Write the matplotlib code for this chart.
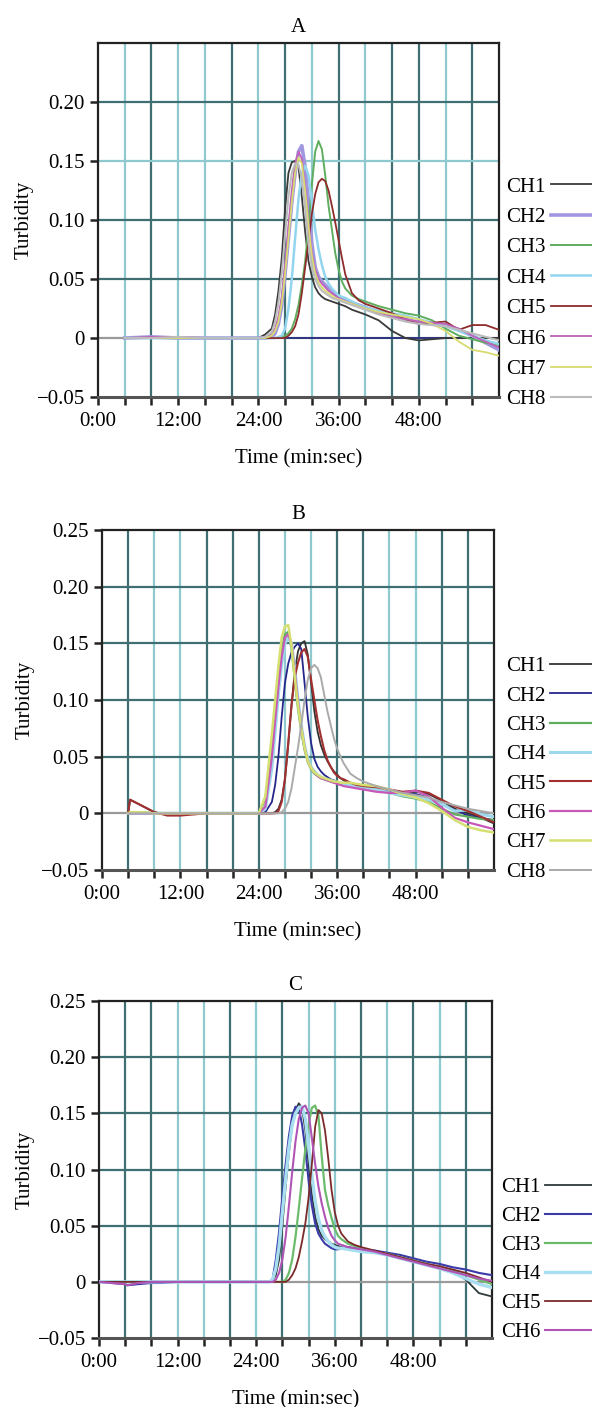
import numpy as np
import matplotlib
matplotlib.use("Agg")
import matplotlib.pyplot as plt

plt.rcParams['font.family'] = ['Liberation Serif', 'DejaVu Serif']
plt.rcParams['font.size'] = 15

# ---------------- data (time in minutes, turbidity) ----------------
A_TIME = [4, 8, 12, 16, 20, 24, 25,
          26, 26.5, 27, 27.5, 28, 28.5, 29, 29.5, 30, 30.5, 31, 31.5, 32, 32.5,
          33, 33.5, 34, 34.5, 35, 35.5, 36, 36.5, 37,
          38, 39, 40, 42, 44, 46, 48, 50, 52, 54, 56, 58, 60]
A_CH1 = [0, 0, 0, 0, 0, 0, 0.003,
         0.008, 0.020, 0.040, 0.068, 0.110, 0.140, 0.149, 0.150, 0.145, 0.120, 0.090, 0.065, 0.052, 0.043,
         0.038, 0.035, 0.033, 0.032, 0.031, 0.030, 0.029, 0.028, 0.027,
         0.024, 0.022, 0.020, 0.015, 0.006, 0.000, -0.002, -0.001, 0.0, 0.0, 0.0, 0.0, 0.0]
A_CH2 = [0, 0.001, 0, 0, 0, 0, 0,
         0.001, 0.004, 0.012, 0.028, 0.055, 0.085, 0.115, 0.140, 0.158, 0.163, 0.145, 0.115, 0.080, 0.060,
         0.052, 0.048, 0.045, 0.042, 0.039, 0.037, 0.035, 0.033, 0.032,
         0.030, 0.028, 0.026, 0.022, 0.019, 0.016, 0.013, 0.012, 0.011, 0.007, 0.002, -0.004, -0.010]
A_CH3 = [0, 0, 0, 0, 0, 0, 0,
         0, 0, 0, 0.001, 0.002, 0.004, 0.008, 0.016, 0.028, 0.045, 0.065, 0.095, 0.130, 0.158,
         0.167, 0.160, 0.138, 0.112, 0.092, 0.072, 0.058, 0.048, 0.042,
         0.036, 0.033, 0.031, 0.027, 0.024, 0.021, 0.019, 0.015, 0.008, 0.002, -0.001, -0.004, -0.006]
A_CH4 = [0, 0, 0, 0, 0, 0, 0,
         0, 0, 0.001, 0.002, 0.008, 0.025, 0.050, 0.085, 0.118, 0.140, 0.146, 0.138, 0.115, 0.092,
         0.075, 0.062, 0.052, 0.046, 0.042, 0.039, 0.036, 0.035, 0.034,
         0.031, 0.028, 0.026, 0.023, 0.021, 0.019, 0.016, 0.013, 0.010, 0.006, 0.002, -0.002, -0.005]
A_CH5 = [0, 0, 0, 0, 0, 0, 0,
         0, 0, 0, 0, 0, 0.002, 0.005, 0.010, 0.020, 0.038, 0.060, 0.082, 0.105, 0.122,
         0.132, 0.135, 0.133, 0.125, 0.112, 0.098, 0.083, 0.068, 0.054,
         0.038, 0.032, 0.029, 0.025, 0.021, 0.016, 0.012, 0.013, 0.014, 0.007, 0.011, 0.011, 0.007]
A_CH6 = [0, 0.001, 0.001, 0, 0, 0, 0.001,
         0.003, 0.008, 0.018, 0.035, 0.062, 0.095, 0.125, 0.148, 0.158, 0.152, 0.128, 0.098, 0.072, 0.058,
         0.050, 0.046, 0.043, 0.040, 0.038, 0.036, 0.034, 0.032, 0.031,
         0.029, 0.027, 0.025, 0.021, 0.018, 0.016, 0.014, 0.013, 0.012, 0.008, 0.002, -0.003, -0.008]
A_CH7 = [0, 0, 0, 0, 0, 0, 0,
         0.002, 0.006, 0.014, 0.030, 0.055, 0.085, 0.115, 0.140, 0.153, 0.148, 0.125, 0.095, 0.070, 0.055,
         0.047, 0.043, 0.040, 0.038, 0.036, 0.034, 0.033, 0.032, 0.031,
         0.029, 0.027, 0.025, 0.022, 0.020, 0.018, 0.016, 0.012, 0.006, -0.003, -0.010, -0.012, -0.015]
A_CH8 = [0, 0, 0.001, 0, 0, 0, 0.001,
         0.005, 0.014, 0.030, 0.055, 0.088, 0.120, 0.140, 0.148, 0.147, 0.135, 0.110, 0.080, 0.060, 0.050,
         0.044, 0.040, 0.038, 0.036, 0.034, 0.033, 0.032, 0.031, 0.030,
         0.028, 0.026, 0.024, 0.020, 0.017, 0.014, 0.012, 0.011, 0.010, 0.007, 0.004, 0.001, -0.002]
A_BASE_TIME = [28, 60]
A_BASE = [0.0, 0.0]

B_TIME = [4, 4.3, 6, 8, 10, 12, 14, 16, 20, 24, 25,
          26, 26.5, 27, 27.5, 28, 28.5, 29, 29.5, 30, 30.5, 31, 31.5, 32, 32.5,
          33, 33.5, 34, 34.5, 35, 35.5, 36, 36.5, 37,
          38, 39, 40, 42, 44, 46, 48, 50, 52, 54, 56, 58, 60]
B_CH1 = [0, 0.012, 0.007, 0.001, -0.001, -0.001, 0, 0, 0, 0, 0,
         0, 0.001, 0.004, 0.012, 0.030, 0.060, 0.095, 0.125, 0.143, 0.150, 0.152, 0.140, 0.115, 0.090,
         0.072, 0.060, 0.052, 0.046, 0.041, 0.037, 0.034, 0.031, 0.029,
         0.026, 0.024, 0.023, 0.021, 0.018, 0.017, 0.019, 0.017, 0.011, 0.004, 0.000, -0.004, -0.009]
B_CH2 = [0, 0, 0, 0, 0, 0, 0, 0, 0, 0, 0.001,
         0.010, 0.025, 0.050, 0.085, 0.115, 0.132, 0.142, 0.147, 0.150, 0.145, 0.115, 0.085, 0.062, 0.048,
         0.041, 0.037, 0.034, 0.032, 0.030, 0.029, 0.028, 0.027, 0.026,
         0.025, 0.024, 0.023, 0.021, 0.019, 0.017, 0.017, 0.014, 0.008, 0.003, -0.002, -0.004, -0.006]
B_CH3 = [0, 0, 0.001, 0, 0, 0, 0, 0, 0, 0, 0.012,
         0.060, 0.092, 0.122, 0.145, 0.158, 0.160, 0.145, 0.118, 0.092, 0.072, 0.056, 0.045, 0.039, 0.035,
         0.033, 0.031, 0.030, 0.029, 0.028, 0.027, 0.027, 0.026, 0.026,
         0.025, 0.024, 0.023, 0.021, 0.018, 0.015, 0.013, 0.010, 0.004, -0.001, -0.003, -0.005, -0.006]
B_CH4 = [0, 0, 0, 0, 0, 0, 0, 0, 0, 0, 0.004,
         0.040, 0.072, 0.105, 0.132, 0.150, 0.155, 0.150, 0.128, 0.100, 0.078, 0.060, 0.048, 0.041, 0.037,
         0.034, 0.032, 0.031, 0.030, 0.029, 0.028, 0.027, 0.027, 0.026,
         0.025, 0.024, 0.023, 0.021, 0.018, 0.016, 0.014, 0.012, 0.008, 0.002, 0.003, -0.001, -0.003]
B_CH5 = [0, 0.012, 0.007, 0.001, -0.002, -0.002, -0.001, 0, 0, 0, 0,
         0, 0, 0.002, 0.010, 0.030, 0.062, 0.095, 0.120, 0.133, 0.142, 0.145, 0.138, 0.118, 0.100,
         0.082, 0.068, 0.056, 0.047, 0.041, 0.036, 0.033, 0.031, 0.030,
         0.027, 0.025, 0.024, 0.023, 0.021, 0.019, 0.020, 0.018, 0.012, 0.006, 0.002, -0.003, -0.008]
B_CH6 = [0, 0, 0, 0, 0, 0, 0, 0, 0, 0, 0.006,
         0.050, 0.082, 0.112, 0.138, 0.155, 0.158, 0.150, 0.125, 0.098, 0.076, 0.058, 0.046, 0.040, 0.036,
         0.033, 0.031, 0.030, 0.029, 0.028, 0.027, 0.026, 0.025, 0.024,
         0.023, 0.022, 0.021, 0.019, 0.018, 0.018, 0.020, 0.015, 0.005, -0.004, -0.008, -0.011, -0.014]
B_CH7 = [0, 0.001, 0.001, 0, 0, 0, 0, 0, 0, 0, 0.015,
         0.070, 0.100, 0.130, 0.155, 0.165, 0.166, 0.148, 0.120, 0.095, 0.075, 0.058, 0.046, 0.040, 0.036,
         0.034, 0.032, 0.031, 0.030, 0.029, 0.028, 0.028, 0.027, 0.027,
         0.027, 0.026, 0.025, 0.024, 0.021, 0.017, 0.014, 0.009, 0.002, -0.006, -0.012, -0.015, -0.017]
B_CH8 = [0, 0, 0, 0, 0, 0, 0, 0, 0, 0, 0,
         0, 0, 0, 0.001, 0.004, 0.010, 0.022, 0.040, 0.058, 0.078, 0.100, 0.118, 0.128, 0.131,
         0.128, 0.120, 0.105, 0.090, 0.078, 0.066, 0.057, 0.050, 0.044,
         0.035, 0.031, 0.028, 0.024, 0.021, 0.018, 0.016, 0.014, 0.010, 0.007, 0.004, 0.002, 0.000]

C_TIME = [0, 4, 4.3, 6, 8, 9.5, 12, 16, 20, 24, 25,
          26, 26.5, 27, 27.5, 28, 28.5, 29, 29.5, 30, 30.5, 31, 31.5, 32, 32.5,
          33, 33.5, 34, 34.5, 35, 35.5, 36, 36.5, 37,
          38, 39, 40, 42, 44, 46, 48, 50, 52, 54, 56, 58, 60]
C_CH1 = [0, 0, 0, 0, 0, 0, 0, 0, 0, 0, 0,
         0, 0.001, 0.006, 0.020, 0.050, 0.085, 0.115, 0.140, 0.153, 0.159, 0.155, 0.135, 0.105, 0.078,
         0.058, 0.047, 0.041, 0.038, 0.036, 0.034, 0.033, 0.032, 0.031,
         0.030, 0.029, 0.028, 0.027, 0.025, 0.022, 0.019, 0.016, 0.013, 0.009, 0.002, -0.010, -0.013]
C_CH2 = [0, -0.002, -0.003, -0.002, -0.001, -0.001, 0, 0, 0, 0, 0,
         0, 0.002, 0.020, 0.045, 0.076, 0.105, 0.130, 0.148, 0.156, 0.155, 0.140, 0.118, 0.090, 0.068,
         0.052, 0.043, 0.038, 0.034, 0.032, 0.030, 0.029, 0.029, 0.030,
         0.031, 0.030, 0.029, 0.028, 0.026, 0.024, 0.021, 0.018, 0.016, 0.013, 0.011, 0.008, 0.006]
C_CH3 = [0, 0, 0, 0, 0, 0, 0, 0, 0, 0, 0,
         0, 0, 0, 0, 0, 0.002, 0.008, 0.020, 0.040, 0.065, 0.092, 0.118, 0.140, 0.155,
         0.157, 0.148, 0.112, 0.082, 0.068, 0.057, 0.047, 0.041, 0.038,
         0.034, 0.032, 0.030, 0.027, 0.025, 0.022, 0.019, 0.016, 0.013, 0.010, 0.006, 0.002, -0.002]
C_CH4 = [0, 0, 0, 0, 0, 0, 0, 0, 0, 0, 0,
         0, 0.002, 0.012, 0.032, 0.062, 0.092, 0.120, 0.140, 0.150, 0.155, 0.156, 0.145, 0.120, 0.095,
         0.072, 0.056, 0.046, 0.040, 0.036, 0.033, 0.031, 0.030, 0.030,
         0.029, 0.028, 0.027, 0.026, 0.024, 0.021, 0.018, 0.015, 0.012, 0.008, 0.003, -0.002, -0.005]
C_CH5 = [0, 0, 0, 0, 0, 0, 0, 0, 0, 0, 0,
         0, 0, 0, 0, 0, 0, 0.002, 0.006, 0.012, 0.022, 0.036, 0.052, 0.075, 0.105,
         0.138, 0.153, 0.150, 0.135, 0.110, 0.082, 0.062, 0.050, 0.043,
         0.036, 0.033, 0.031, 0.028, 0.025, 0.022, 0.019, 0.016, 0.014, 0.011, 0.008, 0.004, 0.000]
C_CH6 = [0, -0.002, -0.003, -0.001, 0, 0, 0, 0, 0, 0, 0,
         0, 0, 0.002, 0.008, 0.020, 0.040, 0.068, 0.098, 0.125, 0.145, 0.155, 0.157, 0.150, 0.128,
         0.105, 0.085, 0.070, 0.058, 0.048, 0.041, 0.037, 0.034, 0.033,
         0.031, 0.030, 0.029, 0.027, 0.024, 0.021, 0.018, 0.015, 0.012, 0.009, 0.006, 0.003, 0.001]

LABELS = ['CH1', 'CH2', 'CH3', 'CH4', 'CH5', 'CH6', 'CH7', 'CH8']
YTICKS = [-0.05, 0, 0.05, 0.10, 0.15, 0.20, 0.25]
YTICK_LABELS = ['\u22120.05', '0', '0.05', '0.10', '0.15', '0.20', '0.25']
XTICKS = [0, 12, 24, 36, 48]
XTICK_LABELS = ['0:00', '12:00', '24:00', '36:00', '48:00']

# ---------------- styles ----------------
DARK = '#3f6f72'
LIGHT = '#8fc9cf'
GRID_A = [LIGHT, DARK, LIGHT, LIGHT, DARK, LIGHT, DARK, LIGHT, DARK, LIGHT, DARK, DARK, LIGHT, DARK]
GRID_B = [DARK, LIGHT, LIGHT, DARK, DARK, DARK, LIGHT, LIGHT, DARK, DARK, LIGHT, LIGHT, DARK, DARK]
GRID_C = [DARK, DARK, LIGHT, LIGHT, DARK, LIGHT, DARK, LIGHT, LIGHT, DARK, LIGHT, DARK, LIGHT, DARK]

STYLE_A = [('#3a3a3a', 1.3), ('#a197e0', 2.6), ('#5fae5f', 1.4), ('#93d5ee', 1.8),
           ('#8e2b2b', 1.3), ('#c060b8', 1.3), ('#d8db70', 1.3), ('#bcbcbc', 1.5)]
STYLE_B = [('#333333', 1.3), ('#26268a', 1.3), ('#5fae5f', 1.6), ('#9dd8ec', 2.2),
           ('#a33030', 1.5), ('#c858b8', 1.6), ('#d6e070', 1.8), ('#aaaaaa', 1.4)]
STYLE_C = [('#2f3a3a', 1.3), ('#3a3aa8', 1.5), ('#6cbb6c', 1.6), ('#a8def0', 2.4),
           ('#7b2a2a', 1.3), ('#b055b5', 1.5)]

fig = plt.figure(figsize=(5.92, 14.07), dpi=100, facecolor='white')

panels = [
    ('A', [0.1655, 0.7178, 0.6774, 0.2516], A_TIME, [A_CH1, A_CH2, A_CH3, A_CH4, A_CH5, A_CH6, A_CH7, A_CH8],
     STYLE_A, GRID_A, False, (1.018, -0.035), -0.160, 0.52),
    ('B', [0.1723, 0.3817, 0.6622, 0.2416], B_TIME, [B_CH1, B_CH2, B_CH3, B_CH4, B_CH5, B_CH6, B_CH7, B_CH8],
     STYLE_B, GRID_B, True, (1.030, -0.035), -0.172, 0.47),
    ('C', [0.1672, 0.0490, 0.6639, 0.2395], C_TIME, [C_CH1, C_CH2, C_CH3, C_CH4, C_CH5, C_CH6],
     STYLE_C, GRID_C, True, (1.022, -0.012), -0.165, 0.45),
]

for name, rect, times, series, styles, gridcols, top_label, leg_anchor, ylab_x, spacing in panels:
    ax = fig.add_axes(rect)
    ax.set_xlim(0, 60)
    ax.set_ylim(-0.05, 0.25)

    # grid lines
    for i, col in enumerate(gridcols):
        ax.axvline(4 * (i + 1), color=col, lw=1.6, zorder=1)
    for yv in [0.05, 0.10, 0.15, 0.20]:
        hcol = LIGHT if (name == 'A' and yv == 0.15) else DARK
        ax.axhline(yv, color=hcol, lw=1.6, zorder=1)
    ax.axhline(0, color='#9a9a9a', lw=1.6, zorder=1)

    handles = []
    for vals, lab, (col, lw) in zip(series, LABELS, styles):
        h, = ax.plot(times, vals, color=col, lw=lw, label=lab, zorder=3)
        handles.append(h)
    if name == 'A':
        ax.plot(A_BASE_TIME, A_BASE, color='#1a237e', lw=1.2, zorder=2.5)

    ax.set_xticks(XTICKS)
    ax.set_xticklabels(XTICK_LABELS)
    ax.set_xticks(np.arange(0, 60, 4), minor=True)
    if top_label:
        ax.set_yticks(YTICKS)
        ax.set_yticklabels(YTICK_LABELS)
    else:
        ax.set_yticks(YTICKS[:-1])
        ax.set_yticklabels(YTICK_LABELS[:-1])
    ax.tick_params(axis='both', which='both', direction='out', length=6, width=1.8,
                   color='#222222', labelsize=15)
    ax.tick_params(axis='x', which='major', pad=5)
    for sp in ax.spines.values():
        sp.set_linewidth(1.6)
        sp.set_color('#222222')
    ax.spines['bottom'].set_color('#555555')
    ax.spines['bottom'].set_linewidth(2.2)

    ax.set_title(name, fontsize=15, pad=8)
    ax.set_xlabel('Time (min:sec)', fontsize=15, labelpad=13)
    ax.set_ylabel('Turbidity', fontsize=15)
    ax.yaxis.set_label_coords(ylab_x, 0.5)

    ax.legend(handles=handles, loc='lower left', bbox_to_anchor=leg_anchor,
              frameon=False, markerfirst=False, handlelength=3.2, handletextpad=0.25,
              labelspacing=spacing, borderpad=0, borderaxespad=0, fontsize=15)

fig.savefig('out.png', dpi=100, facecolor='white')
